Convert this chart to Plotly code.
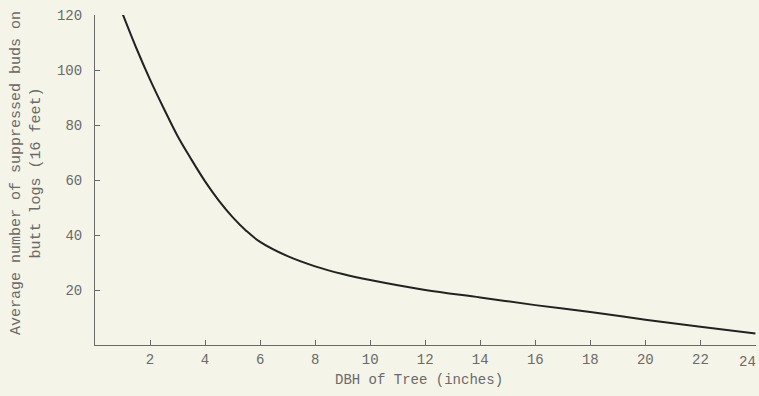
import plotly.graph_objects as go

# Diameter at breast height (inches) and average suppressed buds on 16-ft butt logs
dbh = [1.0, 1.5, 2.0, 2.5, 3.0, 3.5, 4.0, 4.5, 5.0, 5.5, 6.0, 7.0, 8.0, 9.0,
       10, 12, 14, 16, 18, 20, 22, 24]
buds = [120.5, 108, 96.5, 86, 76, 67.5, 59.5, 52.5, 46.5, 41.5, 37.5, 32.3, 28.6, 25.8,
        23.6, 20, 17.3, 14.5, 12, 9.2, 6.6, 4.2]

x_ticks = [2, 4, 6, 8, 10, 12, 14, 16, 18, 20, 22, 24]
y_ticks = [20, 40, 60, 80, 100, 120]

paper = "#f4f4e8"
ink = "#6a6a6a"
font = "Liberation Mono, Courier New, monospace"

fig = go.Figure()
fig.add_trace(go.Scatter(
    x=dbh, y=buds, mode="lines",
    line=dict(color="#222222", width=2, shape="spline", smoothing=1.0),
    cliponaxis=False, showlegend=False, hoverinfo="skip",
))

axis_common = dict(
    showgrid=False, zeroline=False, showline=True, linecolor=ink, linewidth=1,
    ticks="inside", ticklen=5, tickcolor=ink, tickwidth=1,
    tickfont=dict(family=font, size=14, color=ink),
    ticklabeloverflow="allow", automargin=False,
)

# the last x label sits at the page edge, so it is nudged inward as its own text
x_labels = [str(v) for v in x_ticks[:-1]] + [""]
fig.update_xaxes(range=[0, 24.02], tickvals=x_ticks, ticktext=x_labels,
                 ticklabelstandoff=1, **axis_common)
fig.update_yaxes(range=[0, 120], tickvals=y_ticks, ticklabelstandoff=9, **axis_common)

fig.add_annotation(
    text=str(x_ticks[-1]), xref="x", yref="paper", x=x_ticks[-1], y=0,
    xanchor="right", yanchor="top", xshift=3, yshift=-7, showarrow=False,
    font=dict(family=font, size=14, color=ink),
)
fig.add_annotation(
    text="DBH of Tree (inches)", xref="paper", yref="paper",
    x=0.49, y=0, yshift=-35, yanchor="middle", showarrow=False,
    font=dict(family=font, size=14, color=ink),
)
fig.add_annotation(
    text="Average number of suppressed buds on<br>butt logs (16 feet)",
    xref="paper", yref="paper", x=0, xshift=-69, y=0.5, yshift=7,
    textangle=-90, xanchor="center", yanchor="middle", showarrow=False,
    font=dict(family=font, size=15, color=ink),
)

fig.update_layout(
    width=759, height=396,
    margin=dict(l=95, r=3, t=15, b=51),
    paper_bgcolor=paper, plot_bgcolor=paper,
)

fig.write_html("out.html")
